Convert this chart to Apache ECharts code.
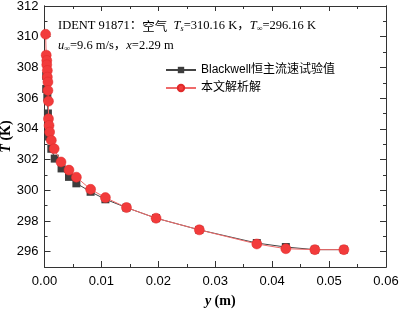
<!DOCTYPE html>
<html>
<head>
<meta charset="utf-8">
<script src="https://cdn.jsdelivr.net/npm/echarts@6/dist/echarts.min.js"></script>
<style>
  html, body { margin: 0; padding: 0; background: #fff; }
  #main { width: 401px; height: 309px; }
</style>
</head>
<body>
<div id="main"></div>
<script>
// Blackwell 恒主流速试验值 (y / m, T / K)
var expY = [0.0003, 0.0003, 0.0005, 0.0006, 0.0007, 0.0008, 0.0012, 0.0018, 0.0030, 0.0043, 0.0056, 0.0081, 0.0107, 0.0144, 0.0196, 0.0272, 0.0373, 0.0424, 0.0475, 0.0526];
var expT = [307.45, 306.6, 306.05, 305.0, 304.4, 303.5, 302.7, 302.06, 301.42, 300.87, 300.45, 299.9, 299.41, 298.87, 298.18, 297.42, 296.56, 296.30, 296.13, 296.13];

// 本文解析解
var calcY = [0.0002, 0.0003, 0.0004, 0.0004, 0.0005, 0.0005, 0.0006, 0.0006, 0.0007, 0.0007, 0.0008, 0.0009, 0.0012, 0.0017, 0.0029, 0.0043, 0.0056, 0.0081, 0.0107, 0.0144, 0.0196, 0.0272, 0.0373, 0.0424, 0.0475, 0.0526];
var calcT = [310.16, 308.8, 308.45, 308.17, 307.8, 307.37, 307.05, 306.5, 305.8, 304.65, 304.22, 303.79, 303.25, 302.7, 301.84, 301.31, 300.85, 300.06, 299.52, 298.87, 298.18, 297.42, 296.5, 296.19, 296.13, 296.13];

var yMajor = [296, 298, 300, 302, 304, 306, 308, 310, 312];
var yMinor = [297, 299, 301, 303, 305, 307, 309, 311];

var seriesNames = ['Blackwell恒主流速试验值', '本文解析解'];

function pairs(xs, ys) {
  return xs.map(function (x, i) { return [x, ys[i]]; });
}

var chart = echarts.init(document.getElementById('main'));

var lineCol = '#333';
var labelFont = { color: '#000', fontSize: 13, fontFamily: 'Liberation Sans, Arial' };

function yAxisCfg(pos, ticks, len, showLabel) {
  return {
    type: 'value', position: pos, min: 295, max: 312,
    axisLine: { show: true, lineStyle: { color: lineCol, width: 1 } },
    axisTick: { show: true, inside: true, length: len, customValues: ticks, lineStyle: { color: lineCol } },
    axisLabel: showLabel ? Object.assign({ customValues: ticks, margin: 6 }, labelFont) : { show: false },
    splitLine: { show: false }
  };
}

var option = {
  animation: false,
  grid: { left: 44.5, right: 15, top: 6, bottom: 42, containLabel: false, outerBoundsMode: 'none' },
  legend: {
    orient: 'vertical', left: 165, top: 64, itemGap: 6, padding: 0,
    itemWidth: 30, itemHeight: 8,
    textStyle: { fontSize: 12, color: '#000', fontFamily: 'Liberation Sans, Noto Sans CJK SC' },
    data: seriesNames
  },
  xAxis: [{
    type: 'value', min: 0, max: 0.06, interval: 0.01, position: 'bottom',
    name: '{i|y} (m)', nameLocation: 'middle', nameGap: 27, nameMoveOverlap: false,
    nameTextStyle: {
      color: '#000', fontSize: 14, fontWeight: 'bold', fontFamily: 'Liberation Serif, Times New Roman',
      padding: [0, 0, 0, 10],
      rich: { i: { fontStyle: 'italic', fontWeight: 'bold', fontSize: 14, fontFamily: 'Liberation Serif' } }
    },
    axisLine: { show: true, lineStyle: { color: lineCol } },
    axisTick: { show: true, inside: true, length: 6, lineStyle: { color: lineCol } },
    minorTick: { show: true, splitNumber: 2, length: 3, lineStyle: { color: lineCol } },
    axisLabel: Object.assign({ margin: 8, formatter: function (v) { return v.toFixed(2); } }, labelFont),
    splitLine: { show: false }
  }, {
    type: 'value', min: 0, max: 0.06, interval: 0.01, position: 'top',
    axisLine: { show: true, lineStyle: { color: lineCol } },
    axisTick: { show: true, inside: true, length: 5, lineStyle: { color: lineCol } },
    minorTick: { show: true, splitNumber: 2, length: 3, lineStyle: { color: lineCol } },
    axisLabel: { show: false },
    splitLine: { show: false }
  }],
  yAxis: [
    Object.assign(yAxisCfg('left', yMajor, 6, true), {
      name: '{i|T} (K)', nameLocation: 'middle', nameGap: 31, nameRotate: 90, nameMoveOverlap: false,
      nameTextStyle: {
        color: '#000', fontSize: 14, fontWeight: 'bold', fontFamily: 'Liberation Serif, Times New Roman',
        rich: { i: { fontStyle: 'italic', fontWeight: 'bold', fontSize: 14, fontFamily: 'Liberation Serif' } }
      }
    }),
    yAxisCfg('left', yMinor, 3, false),
    yAxisCfg('right', yMajor, 6, false),
    yAxisCfg('right', yMinor, 3, false)
  ],
  graphic: [{
    type: 'text', left: 58, top: 16,
    style: {
      text: 'IDENT 91871：{c|空气}  {i|T}{s|s}=310.16 K，{i|T}{s|∞}=296.16 K\n{i|u}{s|∞}=9.6 m/s，{i|x}=2.29 m',
      font: '12.5px "Liberation Serif", "Noto Sans CJK SC"',
      fill: '#000', lineHeight: 20,
      rich: {
        c: { fontSize: 12.5, fontFamily: 'Noto Sans CJK SC', fill: '#000' },
        i: { fontStyle: 'italic', fontSize: 12.5, fontFamily: 'Liberation Serif', fill: '#000' },
        s: { fontStyle: 'italic', fontSize: 8, fontFamily: 'Liberation Serif', fill: '#000', padding: [6, 0, 0, 0] }
      }
    }
  }],
  series: [{
    name: seriesNames[0], type: 'line',
    data: pairs(expY, expT),
    symbol: 'rect', symbolSize: 8,
    itemStyle: { color: '#3d3d3d' },
    lineStyle: { color: '#444', width: 1 },
    z: 2
  }, {
    name: seriesNames[1], type: 'line',
    data: pairs(calcY, calcT),
    symbol: 'circle', symbolSize: 10,
    itemStyle: { color: '#f23b3b', borderColor: '#e02a2a', borderWidth: 0.5 },
    lineStyle: { color: '#ef6a6a', width: 1 },
    z: 3
  }]
};

chart.setOption(option);
</script>
</body>
</html>
